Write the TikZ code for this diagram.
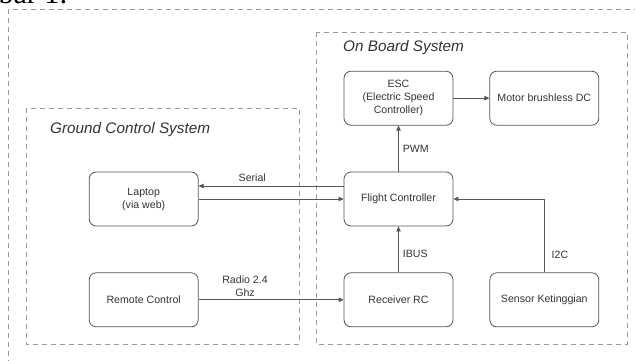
\documentclass[tikz,border=0pt]{standalone}
\usepackage{fontspec}
\setmainfont{Liberation Sans}
\newfontfamily\capserif{Liberation Serif}
\usetikzlibrary{arrows.meta,positioning,calc}

\definecolor{linegray}{HTML}{555555}
\definecolor{dashgray}{HTML}{9A9A9A}
\definecolor{textgray}{HTML}{333333}

\begin{document}
\begin{tikzpicture}[
    x=1pt, y=-1pt,
    >={Triangle[length=5pt,width=4.5pt]},
    font=\fontsize{10.6}{13}\selectfont,
    node distance=46pt and 36pt,
    block/.style={draw=linegray, line width=0.8pt, rounded corners=7pt, minimum width=109pt, minimum height=54pt, inner sep=1pt, align=center, text=textgray},
    group/.style={draw=dashgray, line width=0.8pt, dash pattern=on 5pt off 4pt},
    grouptitle/.style={font=\fontsize{15.3}{18}\selectfont\itshape, text=textgray, anchor=west, inner sep=0pt},
    conn/.style={->, draw=linegray, line width=0.8pt},
    lbl/.style={text=textgray, inner sep=0pt, align=center},
]
\useasboundingbox (0,0) rectangle (635,360);

% caption fragment cut at the top
\node[anchor=base east, text=black, font=\capserif\fontsize{30}{30}\selectfont, inner sep=0pt] (cap) at (68,3) {Gambar 1:};

% dashed groups
\draw[group] (8,9) rectangle (650,380);
\draw[group] (26,108) rectangle (299,344);
\draw[group] (316,32) rectangle (627,344);
\node[grouptitle] (gcs) at (50,130) {Ground Control System};
\node[grouptitle] (obs) at (343,48) {On Board System};

% blocks
\node[block] (fc) at (398.5,199) {Flight Controller};
\node[block, above=of fc] (esc) {ESC\\(Electric Speed\\Controller)};
\node[block, right=of esc] (motor) {Motor brushless DC};
\node[block, below=of fc] (rx) {Receiver RC};
\node[block, right=of rx] (sensor) {Sensor Ketinggian};
\node[block, left=145pt of fc] (laptop) {Laptop\\(via web)};
\node[block, left=145pt of rx] (remote) {Remote Control};

% connections
\draw[conn] (esc) -- (motor);
\draw[conn] (fc) -- node[lbl, right=4pt] {PWM} (esc);
\draw[conn] ([yshift=13pt]fc.west) -- node[lbl, pos=0.63, above=4pt] {Serial} ([yshift=13pt]laptop.east);
\draw[conn] (laptop.east) -- (fc.west);
\draw[conn] (remote) -- node[lbl, pos=0.32, above=3pt] {Radio 2.4\\Ghz} (rx);
\draw[conn] (rx) -- node[lbl, pos=0.4, right=4pt] {IBUS} (fc);
\draw[conn] (sensor.north) |- node[lbl, pos=0.12, right=7pt] {I2C} (fc.east);

\end{tikzpicture}
\end{document}
